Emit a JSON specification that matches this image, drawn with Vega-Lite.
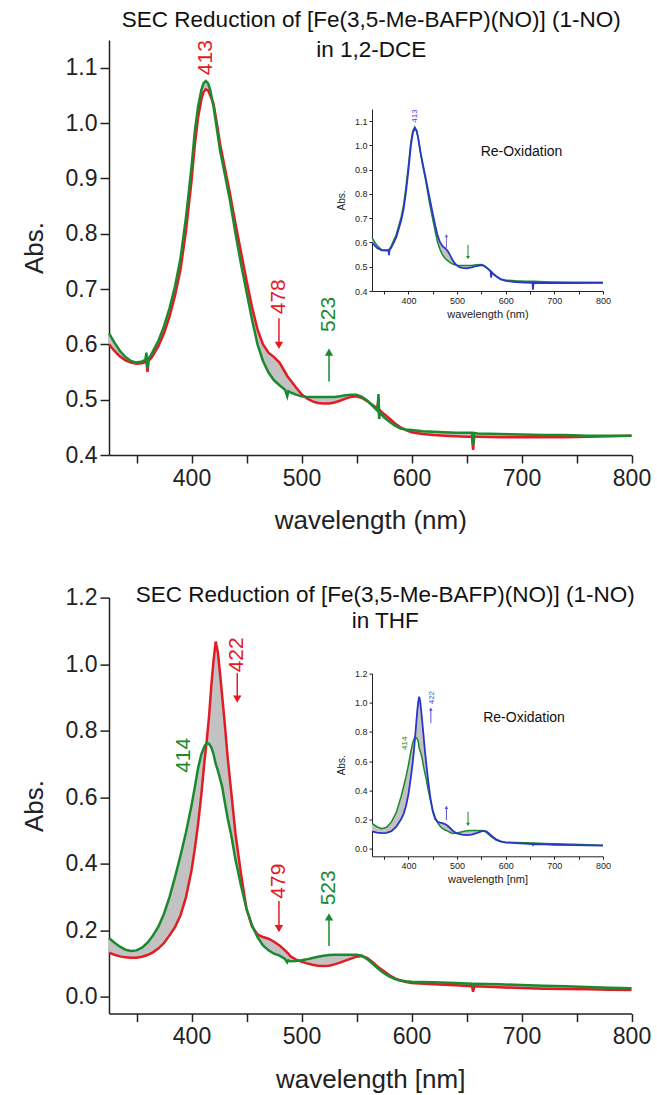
{
"$schema": "https://vega.github.io/schema/vega-lite/v6.json",
"background": "white",
"padding": {"left": 21, "top": 9, "right": 0, "bottom": 0},
"config": {"view": {"stroke": null}, "font": "Liberation Sans", "axis": {"grid": false, "labelFont": "Liberation Sans", "titleFont": "Liberation Sans", "titleFontWeight": "normal", "domainColor": "#222", "tickColor": "#222", "labelColor": "#222", "titleColor": "#222", "labelFlush": false, "labelOverlap": false}},
"datasets": {
"topMain": [
{"w":325,"r":0.600,"g":0.620},{"w":330,"r":0.588,"g":0.603},{"w":335,"r":0.578,"g":0.588},{"w":340,"r":0.571,"g":0.577},{"w":345,"r":0.567,"g":0.570},{"w":350,"r":0.565,"g":0.567},{"w":355,"r":0.566,"g":0.569},{"w":358,"r":0.568,"g":0.572},{"w":359,"r":0.569,"g":0.585},{"w":360,"r":0.550,"g":0.557},{"w":361,"r":0.571,"g":0.575},{"w":363,"r":0.574,"g":0.580},{"w":365,"r":0.580,"g":0.588},{"w":370,"r":0.597,"g":0.607},{"w":375,"r":0.620,"g":0.633},{"w":380,"r":0.650,"g":0.665},{"w":385,"r":0.688,"g":0.705},{"w":390,"r":0.735,"g":0.755},{"w":395,"r":0.805,"g":0.830},{"w":400,"r":0.895,"g":0.920},{"w":403,"r":0.960,"g":0.985},{"w":406,"r":1.010,"g":1.030},{"w":409,"r":1.043,"g":1.060},{"w":411,"r":1.056,"g":1.072},{"w":413,"r":1.061,"g":1.076},{"w":415,"r":1.059,"g":1.072},{"w":417,"r":1.050,"g":1.060},{"w":420,"r":1.035,"g":1.030},{"w":423,"r":1.000,"g":0.990},{"w":426,"r":0.962,"g":0.950},{"w":430,"r":0.922,"g":0.910},{"w":435,"r":0.872,"g":0.860},{"w":440,"r":0.818,"g":0.800},{"w":445,"r":0.767,"g":0.745},{"w":450,"r":0.716,"g":0.695},{"w":455,"r":0.668,"g":0.645},{"w":460,"r":0.627,"g":0.600},{"w":465,"r":0.600,"g":0.570},{"w":470,"r":0.585,"g":0.549},{"w":475,"r":0.577,"g":0.535},{"w":480,"r":0.567,"g":0.526},{"w":485,"r":0.550,"g":0.518},{"w":487,"r":0.543,"g":0.506},{"w":488,"r":0.540,"g":0.515},{"w":490,"r":0.535,"g":0.513},{"w":495,"r":0.522,"g":0.509},{"w":500,"r":0.510,"g":0.506},{"w":505,"r":0.502,"g":0.505},{"w":510,"r":0.497,"g":0.505},{"w":515,"r":0.494,"g":0.505},{"w":520,"r":0.493,"g":0.505},{"w":525,"r":0.493,"g":0.505},{"w":530,"r":0.495,"g":0.505},{"w":535,"r":0.498,"g":0.506},{"w":540,"r":0.502,"g":0.508},{"w":545,"r":0.505,"g":0.509},{"w":550,"r":0.506,"g":0.509},{"w":555,"r":0.503,"g":0.505},{"w":560,"r":0.497,"g":0.498},{"w":565,"r":0.490,"g":0.488},{"w":569,"r":0.484,"g":0.480},{"w":570,"r":0.500,"g":0.510},{"w":570.6,"r":0.470,"g":0.465},{"w":571.2,"r":0.481,"g":0.477},{"w":575,"r":0.474,"g":0.468},{"w":580,"r":0.466,"g":0.460},{"w":585,"r":0.457,"g":0.453},{"w":590,"r":0.450,"g":0.448},{"w":595,"r":0.445,"g":0.446},{"w":600,"r":0.441,"g":0.445},{"w":610,"r":0.438,"g":0.443},{"w":620,"r":0.436,"g":0.442},{"w":630,"r":0.435,"g":0.441},{"w":640,"r":0.434,"g":0.440},{"w":650,"r":0.433,"g":0.440},{"w":655,"r":0.433,"g":0.440},{"w":656,"r":0.409,"g":0.418},{"w":657,"r":0.433,"g":0.440},{"w":660,"r":0.433,"g":0.439},{"w":680,"r":0.432,"g":0.438},{"w":700,"r":0.432,"g":0.437},{"w":720,"r":0.432,"g":0.436},{"w":740,"r":0.432,"g":0.436},{"w":760,"r":0.433,"g":0.435},{"w":780,"r":0.434,"g":0.435},{"w":800,"r":0.435,"g":0.435}
],
"topInset": [
{"w":325,"g":0.620,"b":0.600},{"w":335,"g":0.588,"b":0.578},{"w":345,"g":0.570,"b":0.567},{"w":355,"g":0.569,"b":0.566},{"w":359,"g":0.571,"b":0.567},{"w":360,"g":0.571,"b":0.548},{"w":361,"g":0.572,"b":0.568},{"w":365,"g":0.588,"b":0.580},{"w":375,"g":0.633,"b":0.622},{"w":385,"g":0.705,"b":0.690},{"w":390,"g":0.755,"b":0.738},{"w":395,"g":0.830,"b":0.810},{"w":400,"g":0.920,"b":0.900},{"w":405,"g":1.015,"b":1.000},{"w":409,"g":1.060,"b":1.052},{"w":413,"g":1.076,"b":1.071},{"w":417,"g":1.060,"b":1.058},{"w":420,"g":1.030,"b":1.030},{"w":425,"g":0.965,"b":0.970},{"w":430,"g":0.910,"b":0.918},{"w":435,"g":0.860,"b":0.870},{"w":440,"g":0.800,"b":0.818},{"w":445,"g":0.745,"b":0.768},{"w":450,"g":0.695,"b":0.718},{"w":455,"g":0.645,"b":0.670},{"w":460,"g":0.600,"b":0.628},{"w":465,"g":0.570,"b":0.600},{"w":470,"g":0.549,"b":0.585},{"w":475,"g":0.535,"b":0.577},{"w":480,"g":0.526,"b":0.567},{"w":485,"g":0.518,"b":0.550},{"w":490,"g":0.512,"b":0.530},{"w":495,"g":0.508,"b":0.515},{"w":500,"g":0.506,"b":0.505},{"w":505,"g":0.505,"b":0.498},{"w":510,"g":0.505,"b":0.495},{"w":520,"g":0.505,"b":0.493},{"w":530,"g":0.505,"b":0.497},{"w":540,"g":0.508,"b":0.503},{"w":550,"g":0.509,"b":0.507},{"w":555,"g":0.505,"b":0.504},{"w":560,"g":0.498,"b":0.497},{"w":565,"g":0.488,"b":0.489},{"w":569,"g":0.480,"b":0.481},{"w":570,"g":0.480,"b":0.455},{"w":571,"g":0.477,"b":0.478},{"w":575,"g":0.468,"b":0.470},{"w":580,"g":0.460,"b":0.462},{"w":590,"g":0.448,"b":0.448},{"w":600,"g":0.445,"b":0.442},{"w":620,"g":0.442,"b":0.437},{"w":640,"g":0.440,"b":0.435},{"w":655,"g":0.440,"b":0.434},{"w":656,"g":0.440,"b":0.405},{"w":657,"g":0.440,"b":0.434},{"w":680,"g":0.438,"b":0.433},{"w":700,"g":0.437,"b":0.433},{"w":740,"g":0.436,"b":0.433},{"w":800,"g":0.435,"b":0.434}
],
"botMain": [
{"w":325,"r":0.133,"g":0.177},{"w":330,"r":0.127,"g":0.163},{"w":335,"r":0.122,"g":0.151},{"w":340,"r":0.119,"g":0.142},{"w":345,"r":0.118,"g":0.138},{"w":350,"r":0.118,"g":0.140},{"w":355,"r":0.121,"g":0.148},{"w":360,"r":0.126,"g":0.163},{"w":365,"r":0.134,"g":0.185},{"w":370,"r":0.146,"g":0.212},{"w":375,"r":0.162,"g":0.250},{"w":380,"r":0.185,"g":0.300},{"w":385,"r":0.210,"g":0.360},{"w":390,"r":0.245,"g":0.425},{"w":395,"r":0.300,"g":0.495},{"w":400,"r":0.380,"g":0.575},{"w":403,"r":0.445,"g":0.630},{"w":406,"r":0.520,"g":0.688},{"w":409,"r":0.610,"g":0.730},{"w":412,"r":0.715,"g":0.755},{"w":414,"r":0.775,"g":0.763},{"w":416,"r":0.845,"g":0.760},{"w":418,"r":0.935,"g":0.750},{"w":420,"r":1.010,"g":0.730},{"w":422,"r":1.068,"g":0.700},{"w":424,"r":1.035,"g":0.680},{"w":426,"r":0.970,"g":0.655},{"w":428,"r":0.900,"g":0.630},{"w":430,"r":0.830,"g":0.590},{"w":433,"r":0.715,"g":0.535},{"w":436,"r":0.620,"g":0.488},{"w":440,"r":0.490,"g":0.412},{"w":445,"r":0.370,"g":0.335},{"w":450,"r":0.265,"g":0.265},{"w":455,"r":0.212,"g":0.215},{"w":460,"r":0.188,"g":0.180},{"w":465,"r":0.180,"g":0.155},{"w":470,"r":0.175,"g":0.140},{"w":475,"r":0.166,"g":0.130},{"w":480,"r":0.155,"g":0.124},{"w":485,"r":0.140,"g":0.114},{"w":487,"r":0.133,"g":0.104},{"w":488,"r":0.130,"g":0.110},{"w":490,"r":0.122,"g":0.107},{"w":495,"r":0.112,"g":0.108},{"w":500,"r":0.106,"g":0.110},{"w":505,"r":0.101,"g":0.113},{"w":510,"r":0.097,"g":0.117},{"w":515,"r":0.094,"g":0.121},{"w":520,"r":0.093,"g":0.124},{"w":525,"r":0.094,"g":0.126},{"w":530,"r":0.098,"g":0.127},{"w":535,"r":0.103,"g":0.127},{"w":540,"r":0.109,"g":0.127},{"w":545,"r":0.115,"g":0.127},{"w":550,"r":0.121,"g":0.127},{"w":555,"r":0.123,"g":0.124},{"w":560,"r":0.117,"g":0.113},{"w":565,"r":0.104,"g":0.099},{"w":570,"r":0.089,"g":0.084},{"w":575,"r":0.077,"g":0.071},{"w":580,"r":0.065,"g":0.061},{"w":585,"r":0.056,"g":0.054},{"w":590,"r":0.050,"g":0.049},{"w":595,"r":0.045,"g":0.047},{"w":600,"r":0.042,"g":0.046},{"w":620,"r":0.038,"g":0.044},{"w":640,"r":0.035,"g":0.042},{"w":655,"r":0.032,"g":0.040},{"w":656,"r":0.016,"g":0.034},{"w":657,"r":0.032,"g":0.040},{"w":680,"r":0.029,"g":0.038},{"w":700,"r":0.027,"g":0.036},{"w":720,"r":0.025,"g":0.034},{"w":740,"r":0.024,"g":0.032},{"w":760,"r":0.023,"g":0.030},{"w":780,"r":0.022,"g":0.028},{"w":800,"r":0.021,"g":0.026}
],
"botInset": [
{"w":325,"g":0.175,"b":0.120},{"w":335,"g":0.152,"b":0.112},{"w":345,"g":0.138,"b":0.108},{"w":355,"g":0.148,"b":0.110},{"w":365,"g":0.185,"b":0.122},{"w":375,"g":0.250,"b":0.152},{"w":385,"g":0.360,"b":0.205},{"w":390,"g":0.425,"b":0.240},{"w":395,"g":0.495,"b":0.295},{"w":400,"g":0.575,"b":0.375},{"w":405,"g":0.668,"b":0.490},{"w":409,"g":0.730,"b":0.600},{"w":412,"g":0.755,"b":0.700},{"w":414,"g":0.763,"b":0.780},{"w":416,"g":0.760,"b":0.860},{"w":418,"g":0.750,"b":0.940},{"w":420,"g":0.735,"b":1.005},{"w":422,"g":0.690,"b":1.040},{"w":424,"g":0.670,"b":1.010},{"w":426,"g":0.645,"b":0.950},{"w":428,"g":0.620,"b":0.880},{"w":430,"g":0.580,"b":0.810},{"w":433,"g":0.530,"b":0.700},{"w":436,"g":0.485,"b":0.600},{"w":440,"g":0.410,"b":0.480},{"w":445,"g":0.335,"b":0.350},{"w":450,"g":0.265,"b":0.255},{"w":455,"g":0.215,"b":0.205},{"w":460,"g":0.180,"b":0.185},{"w":465,"g":0.155,"b":0.180},{"w":470,"g":0.140,"b":0.177},{"w":475,"g":0.130,"b":0.170},{"w":480,"g":0.124,"b":0.160},{"w":485,"g":0.114,"b":0.145},{"w":490,"g":0.106,"b":0.128},{"w":495,"g":0.108,"b":0.115},{"w":500,"g":0.110,"b":0.106},{"w":510,"g":0.117,"b":0.098},{"w":520,"g":0.124,"b":0.095},{"w":530,"g":0.127,"b":0.098},{"w":540,"g":0.127,"b":0.108},{"w":550,"g":0.127,"b":0.120},{"w":555,"g":0.124,"b":0.124},{"w":560,"g":0.113,"b":0.120},{"w":565,"g":0.099,"b":0.108},{"w":570,"g":0.084,"b":0.092},{"w":580,"g":0.061,"b":0.066},{"w":590,"g":0.049,"b":0.052},{"w":600,"g":0.046,"b":0.044},{"w":620,"g":0.044,"b":0.040},{"w":640,"g":0.042,"b":0.037},{"w":655,"g":0.040,"b":0.034},{"w":656,"g":0.040,"b":0.028},{"w":657,"g":0.040,"b":0.034},{"w":680,"g":0.038,"b":0.031},{"w":700,"g":0.036,"b":0.029},{"w":740,"g":0.032,"b":0.026},{"w":800,"g":0.026,"b":0.023}
]
},
"vconcat": [
{
"width": 522.5, "height": 415,
"title": {"text": "SEC Reduction of [Fe(3,5-Me-BAFP)(NO)] (1-NO)", "subtitle": "in 1,2-DCE", "font": "Liberation Sans", "subtitleFont": "Liberation Sans", "fontSize": 22.5, "subtitleFontSize": 22.5, "fontWeight": "normal", "color": "#111", "subtitleColor": "#111", "anchor": "middle", "frame": "group", "offset": -21, "subtitlePadding": 7, "dx": 1},
"layer": [
{
"data": {"name": "topMain"},
"encoding": {"x": {"field": "w", "type": "quantitative", "scale": {"domain": [325, 800], "nice": false, "zero": false}, "axis": {"orient": "bottom", "values": [350,400,450,500,550,600,650,700,750,800], "labelExpr": "datum.value % 100 === 0 ? datum.label : ''", "title": "wavelength (nm)", "tickSize": 8, "tickWidth": 1.5, "domainWidth": 1.5, "labelFontSize": 23, "titleFontSize": 26, "labelPadding": 4, "titlePadding": 17}}},
"layer": [
{"mark": {"type": "area", "color": "#c2c2c2"}, "encoding": {"y": {"field": "r", "type": "quantitative", "scale": {"domain": [0.4, 1.15], "nice": false, "zero": false}, "axis": {"orient": "left", "values": [0.4,0.45,0.5,0.55,0.6,0.65,0.7,0.75,0.8,0.85,0.9,0.95,1.0,1.05,1.1,1.15], "labelExpr": "abs(datum.value*10 - round(datum.value*10)) < 0.001 ? format(datum.value, '.1f') : ''", "tickSize": {"condition": {"test": "abs(datum.value*10 - round(datum.value*10)) < 0.001", "value": 9}, "value": 5}, "title": "Abs.", "tickWidth": 1.5, "domainWidth": 1.5, "labelFontSize": 23, "titleFontSize": 26, "labelPadding": 3, "titlePadding": 18}}, "y2": {"field": "g"}}},
{"mark": {"type": "line", "color": "#e31b23", "strokeWidth": 2.5}, "encoding": {"y": {"field": "r", "type": "quantitative"}}},
{"mark": {"type": "line", "color": "#1b8a2e", "strokeWidth": 2.5}, "encoding": {"y": {"field": "g", "type": "quantitative"}}},
{"data": {"values": [{"w": 413, "a": 1.118, "t": "413"}, {"w": 479.5, "a": 0.686, "t": "478"}]}, "mark": {"type": "text", "color": "#e31b23", "angle": 270, "fontSize": 21, "align": "center", "baseline": "middle"}, "encoding": {"y": {"field": "a", "type": "quantitative"}, "text": {"field": "t"}}},
{"data": {"values": [{"w": 525, "a": 0.654, "t": "523"}]}, "mark": {"type": "text", "color": "#1b8a2e", "angle": 270, "fontSize": 21, "align": "center", "baseline": "middle"}, "encoding": {"y": {"field": "a", "type": "quantitative"}, "text": {"field": "t"}}},
{"data": {"values": [{"w": 479.5, "a": 0.647, "a2": 0.598}]}, "mark": {"type": "rule", "color": "#e31b23", "strokeWidth": 1.5}, "encoding": {"y": {"field": "a", "type": "quantitative"}, "y2": {"field": "a2"}}},
{"data": {"values": [{"w": 479.5, "a2": 0.598}]}, "mark": {"type": "point", "shape": "triangle-down", "filled": true, "opacity": 1, "color": "#e31b23", "size": 70}, "encoding": {"y": {"field": "a2", "type": "quantitative"}}},
{"data": {"values": [{"w": 525, "a": 0.533, "a2": 0.586}]}, "mark": {"type": "rule", "color": "#1b8a2e", "strokeWidth": 1.5}, "encoding": {"y": {"field": "a", "type": "quantitative"}, "y2": {"field": "a2"}}},
{"data": {"values": [{"w": 525, "a2": 0.586}]}, "mark": {"type": "point", "shape": "triangle-up", "filled": true, "opacity": 1, "color": "#1b8a2e", "size": 70}, "encoding": {"y": {"field": "a2", "type": "quantitative"}}}
]
},
{
"data": {"name": "topInset"},
"encoding": {"x": {"field": "w", "type": "quantitative", "scale": {"domain": [325, 800], "nice": false, "zero": false, "range": [263, 494]}, "axis": {"orient": "bottom", "offset": -164, "values": [350,400,450,500,550,600,650,700,750,800], "labelExpr": "datum.value % 100 === 0 ? datum.label : ''", "title": "wavelength (nm)", "tickSize": 3, "tickWidth": 1, "domainWidth": 1, "labelFontSize": 9, "titleFontSize": 11, "labelPadding": 2, "titlePadding": 3}}},
"layer": [
{"mark": {"type": "area", "color": "#c2c2c2"}, "encoding": {"y": {"field": "g", "type": "quantitative", "scale": {"domain": [0.4, 1.15], "nice": false, "zero": false, "range": [251, 69]}, "axis": {"orient": "left", "offset": -263, "values": [0.4,0.45,0.5,0.55,0.6,0.65,0.7,0.75,0.8,0.85,0.9,0.95,1.0,1.05,1.1,1.15], "labelExpr": "abs(datum.value*10 - round(datum.value*10)) < 0.001 ? format(datum.value, '.1f') : ''", "tickSize": {"condition": {"test": "abs(datum.value*10 - round(datum.value*10)) < 0.001", "value": 3}, "value": 2}, "title": "Abs.", "tickWidth": 1, "domainWidth": 1, "labelFontSize": 9, "titleFontSize": 10, "labelPadding": 2, "titlePadding": 8}}, "y2": {"field": "b"}}},
{"mark": {"type": "line", "color": "#1b8a2e", "strokeWidth": 1.5}, "encoding": {"y": {"field": "g", "type": "quantitative"}}},
{"mark": {"type": "line", "color": "#2a35cc", "strokeWidth": 1.8}, "encoding": {"y": {"field": "b", "type": "quantitative"}}},
{"data": {"values": [{"w": 413, "a": 1.121, "t": "413"}]}, "mark": {"type": "text", "color": "#4a4ad8", "angle": 270, "fontSize": 8, "align": "center", "baseline": "middle"}, "encoding": {"y": {"field": "a", "type": "quantitative"}, "text": {"field": "t"}}},
{"data": {"values": [{"w": 632.4, "a": 0.972, "t": "Re-Oxidation"}]}, "mark": {"type": "text", "color": "#111", "fontSize": 14, "align": "center", "baseline": "middle"}, "encoding": {"y": {"field": "a", "type": "quantitative"}, "text": {"field": "t"}}},
{"data": {"values": [{"w": 478, "a": 0.576, "a2": 0.628}]}, "mark": {"type": "rule", "color": "#7b68d8", "strokeWidth": 1}, "encoding": {"y": {"field": "a", "type": "quantitative"}, "y2": {"field": "a2"}}},
{"data": {"values": [{"w": 478, "a2": 0.628}]}, "mark": {"type": "point", "shape": "triangle-up", "filled": true, "opacity": 1, "color": "#7b68d8", "size": 14}, "encoding": {"y": {"field": "a2", "type": "quantitative"}}},
{"data": {"values": [{"w": 522.4, "a": 0.590, "a2": 0.538}]}, "mark": {"type": "rule", "color": "#1b8a2e", "strokeWidth": 1}, "encoding": {"y": {"field": "a", "type": "quantitative"}, "y2": {"field": "a2"}}},
{"data": {"values": [{"w": 522.4, "a2": 0.538}]}, "mark": {"type": "point", "shape": "triangle-down", "filled": true, "opacity": 1, "color": "#1b8a2e", "size": 14}, "encoding": {"y": {"field": "a2", "type": "quantitative"}}}
]
}
],
"resolve": {"scale": {"x": "independent", "y": "independent"}, "axis": {"x": "independent", "y": "independent"}}
},
{
"width": 522.5, "height": 416,
"title": {"text": "SEC Reduction of [Fe(3,5-Me-BAFP)(NO)] (1-NO)", "subtitle": "in THF", "font": "Liberation Sans", "subtitleFont": "Liberation Sans", "fontSize": 22.5, "subtitleFontSize": 22.5, "fontWeight": "normal", "color": "#111", "subtitleColor": "#111", "anchor": "middle", "frame": "group", "offset": -46, "subtitlePadding": 4, "dx": 15},
"layer": [
{
"data": {"name": "botMain"},
"encoding": {"x": {"field": "w", "type": "quantitative", "scale": {"domain": [325, 800], "nice": false, "zero": false}, "axis": {"orient": "bottom", "values": [350,400,450,500,550,600,650,700,750,800], "labelExpr": "datum.value % 100 === 0 ? datum.label : ''", "title": "wavelength [nm]", "tickSize": 8, "tickWidth": 1.5, "domainWidth": 1.5, "labelFontSize": 23, "titleFontSize": 26, "labelPadding": 4, "titlePadding": 18}}},
"layer": [
{"mark": {"type": "area", "color": "#c2c2c2"}, "encoding": {"y": {"field": "r", "type": "quantitative", "scale": {"domain": [-0.05, 1.2], "nice": false, "zero": false}, "axis": {"orient": "left", "values": [0,0.1,0.2,0.3,0.4,0.5,0.6,0.7,0.8,0.9,1.0,1.1,1.2], "labelExpr": "abs(datum.value*5 - round(datum.value*5)) < 0.001 ? format(datum.value, '.1f') : ''", "tickSize": {"condition": {"test": "abs(datum.value*5 - round(datum.value*5)) < 0.001", "value": 9}, "value": 5}, "title": "Abs.", "tickWidth": 1.5, "domainWidth": 1.5, "labelFontSize": 23, "titleFontSize": 26, "labelPadding": 3, "titlePadding": 18}}, "y2": {"field": "g"}}},
{"mark": {"type": "line", "color": "#e31b23", "strokeWidth": 2.5}, "encoding": {"y": {"field": "r", "type": "quantitative"}}},
{"mark": {"type": "line", "color": "#1b8a2e", "strokeWidth": 2.5}, "encoding": {"y": {"field": "g", "type": "quantitative"}}},
{"data": {"values": [{"w": 441.6, "a": 1.028, "t": "422"}, {"w": 479.5, "a": 0.348, "t": "479"}]}, "mark": {"type": "text", "color": "#e31b23", "angle": 270, "fontSize": 21, "align": "center", "baseline": "middle"}, "encoding": {"y": {"field": "a", "type": "quantitative"}, "text": {"field": "t"}}},
{"data": {"values": [{"w": 393.2, "a": 0.726, "t": "414"}, {"w": 525, "a": 0.328, "t": "523"}]}, "mark": {"type": "text", "color": "#1b8a2e", "angle": 270, "fontSize": 21, "align": "center", "baseline": "middle"}, "encoding": {"y": {"field": "a", "type": "quantitative"}, "text": {"field": "t"}}},
{"data": {"values": [{"w": 441.6, "a": 0.973, "a2": 0.895}, {"w": 479.5, "a": 0.288, "a2": 0.205}]}, "mark": {"type": "rule", "color": "#e31b23", "strokeWidth": 1.5}, "encoding": {"y": {"field": "a", "type": "quantitative"}, "y2": {"field": "a2"}}},
{"data": {"values": [{"w": 441.6, "a2": 0.895}, {"w": 479.5, "a2": 0.205}]}, "mark": {"type": "point", "shape": "triangle-down", "filled": true, "opacity": 1, "color": "#e31b23", "size": 70}, "encoding": {"y": {"field": "a2", "type": "quantitative"}}},
{"data": {"values": [{"w": 525, "a": 0.153, "a2": 0.241}]}, "mark": {"type": "rule", "color": "#1b8a2e", "strokeWidth": 1.5}, "encoding": {"y": {"field": "a", "type": "quantitative"}, "y2": {"field": "a2"}}},
{"data": {"values": [{"w": 525, "a2": 0.241}]}, "mark": {"type": "point", "shape": "triangle-up", "filled": true, "opacity": 1, "color": "#1b8a2e", "size": 70}, "encoding": {"y": {"field": "a2", "type": "quantitative"}}}
]
},
{
"data": {"name": "botInset"},
"encoding": {"x": {"field": "w", "type": "quantitative", "scale": {"domain": [325, 800], "nice": false, "zero": false, "range": [263, 494]}, "axis": {"orient": "bottom", "offset": -157.3, "values": [350,400,450,500,550,600,650,700,750,800], "labelExpr": "datum.value % 100 === 0 ? datum.label : ''", "title": "wavelength [nm]", "tickSize": 3, "tickWidth": 1, "domainWidth": 1, "labelFontSize": 9, "titleFontSize": 11, "labelPadding": 2, "titlePadding": 3}}},
"layer": [
{"mark": {"type": "area", "color": "#c2c2c2"}, "encoding": {"y": {"field": "g", "type": "quantitative", "scale": {"domain": [-0.05, 1.2], "nice": false, "zero": false, "range": [258.7, 75.7]}, "axis": {"orient": "left", "offset": -263, "values": [0,0.1,0.2,0.3,0.4,0.5,0.6,0.7,0.8,0.9,1.0,1.1,1.2], "labelExpr": "abs(datum.value*5 - round(datum.value*5)) < 0.001 ? format(datum.value, '.1f') : ''", "tickSize": {"condition": {"test": "abs(datum.value*5 - round(datum.value*5)) < 0.001", "value": 3}, "value": 2}, "title": "Abs.", "tickWidth": 1, "domainWidth": 1, "labelFontSize": 9, "titleFontSize": 10, "labelPadding": 2, "titlePadding": 8}}, "y2": {"field": "b"}}},
{"mark": {"type": "line", "color": "#1b8a2e", "strokeWidth": 1.5}, "encoding": {"y": {"field": "g", "type": "quantitative"}}},
{"mark": {"type": "line", "color": "#2a35cc", "strokeWidth": 1.8}, "encoding": {"y": {"field": "b", "type": "quantitative"}}},
{"data": {"values": [{"w": 447.7, "a": 1.034, "t": "422"}]}, "mark": {"type": "text", "color": "#4a4ad8", "angle": 270, "fontSize": 8, "align": "center", "baseline": "middle"}, "encoding": {"y": {"field": "a", "type": "quantitative"}, "text": {"field": "t"}}},
{"data": {"values": [{"w": 392.9, "a": 0.722, "t": "414"}]}, "mark": {"type": "text", "color": "#1b8a2e", "angle": 270, "fontSize": 8, "align": "center", "baseline": "middle"}, "encoding": {"y": {"field": "a", "type": "quantitative"}, "text": {"field": "t"}}},
{"data": {"values": [{"w": 637.6, "a": 0.893, "t": "Re-Oxidation"}]}, "mark": {"type": "text", "color": "#111", "fontSize": 14, "align": "center", "baseline": "middle"}, "encoding": {"y": {"field": "a", "type": "quantitative"}, "text": {"field": "t"}}},
{"data": {"values": [{"w": 446, "a": 0.859, "a2": 0.955}, {"w": 478, "a": 0.198, "a2": 0.285}]}, "mark": {"type": "rule", "color": "#5a4fd6", "strokeWidth": 1}, "encoding": {"y": {"field": "a", "type": "quantitative"}, "y2": {"field": "a2"}}},
{"data": {"values": [{"w": 446, "a2": 0.955}, {"w": 478, "a2": 0.285}]}, "mark": {"type": "point", "shape": "triangle-up", "filled": true, "opacity": 1, "color": "#5a4fd6", "size": 14}, "encoding": {"y": {"field": "a2", "type": "quantitative"}}},
{"data": {"values": [{"w": 522.5, "a": 0.255, "a2": 0.168}]}, "mark": {"type": "rule", "color": "#1b8a2e", "strokeWidth": 1}, "encoding": {"y": {"field": "a", "type": "quantitative"}, "y2": {"field": "a2"}}},
{"data": {"values": [{"w": 522.5, "a2": 0.168}]}, "mark": {"type": "point", "shape": "triangle-down", "filled": true, "opacity": 1, "color": "#1b8a2e", "size": 14}, "encoding": {"y": {"field": "a2", "type": "quantitative"}}}
]
}
],
"resolve": {"scale": {"x": "independent", "y": "independent"}, "axis": {"x": "independent", "y": "independent"}}
}
],
"bounds": "flush",
"spacing": 142.6
}
